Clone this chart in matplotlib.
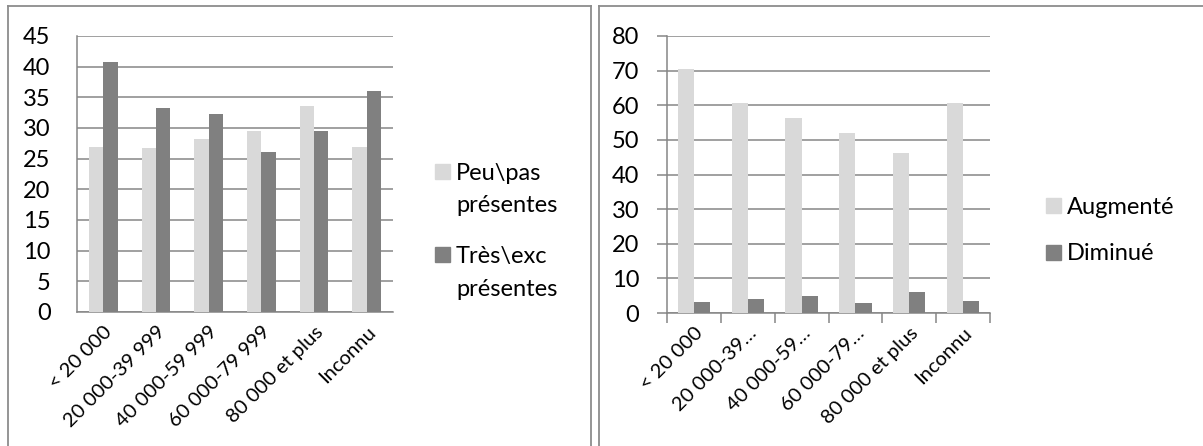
import matplotlib
matplotlib.use("Agg")
import matplotlib.pyplot as plt
from matplotlib.lines import Line2D
from matplotlib.patches import Rectangle
import numpy as np

# Income brackets
categories_left = ["< 20 000", "20 000-39 999", "40 000-59 999",
                   "60 000-79 999", "80 000 et plus", "Inconnu"]
categories_right = ["< 20 000", "20 000-39…", "40 000-59…",
                    "60 000-79…", "80 000 et plus", "Inconnu"]

# Left panel series
peu_pas = [26.9, 26.7, 28.2, 29.5, 33.6, 26.9]
tres_exc = [40.7, 33.3, 32.3, 26.1, 29.5, 36.0]
labels_left = ["Peu\\pas\nprésentes", "Très\\exc\nprésentes"]

# Right panel series
augmente = [70.6, 60.6, 56.3, 51.9, 46.2, 60.6]
diminue = [3.1, 4.0, 4.9, 2.8, 6.0, 3.4]
labels_right = ["Augmenté", "Diminué"]

LIGHT = "#d9d9d9"
DARK = "#808080"
GRID = "#868686"

plt.rcParams["font.family"] = ["Lato", "DejaVu Sans"]
plt.rcParams["font.size"] = 17

W, H = 1203, 446
fig = plt.figure(figsize=(W / 100, H / 100), dpi=100)


def px_rect(x0, y0, x1, y1):
    return [x0 / W, 1 - y1 / H, (x1 - x0) / W, (y1 - y0) / H]


def fx(v):
    return v / W


def fy(v):
    return 1 - v / H


def draw_panel(ax, cats, s1, s2, ymax, ystep, width, ticks_out):
    x = np.arange(len(cats))
    ax.bar(x - width / 2, s1, width, color=LIGHT, zorder=3)
    ax.bar(x + width / 2, s2, width, color=DARK, zorder=3)
    ax.set_xlim(-0.5, len(cats) - 0.5)
    ax.set_ylim(0, ymax)
    ax.set_yticks(np.arange(0, ymax + 1, ystep))
    ax.yaxis.grid(True, color=GRID, linewidth=1.1, zorder=0)
    ax.set_axisbelow(True)
    for side in ("top", "right"):
        ax.spines[side].set_visible(False)
    for side in ("left", "bottom"):
        ax.spines[side].set_color(GRID)
        ax.spines[side].set_linewidth(1.1)
    ax.set_xticks(x)
    ax.set_xticklabels(cats, rotation=45, ha="right", va="top",
                       rotation_mode="anchor", fontsize=14.5)
    ax.tick_params(axis="x", length=0, pad=8)
    if ticks_out:
        ax.tick_params(axis="y", length=7, width=1.1, color=GRID, pad=13)
        ax.set_xticks(np.arange(-0.5, len(cats)), minor=True)
        ax.tick_params(axis="x", which="minor", length=7, width=1.1,
                       color=GRID)
    else:
        ax.tick_params(axis="y", length=0, pad=19)


def draw_legend(x_box, entries, colors, first_line_y, line_px):
    # Square key aligned with the first line of each label
    size = 15
    for lab, col, yc in zip(entries, colors, first_line_y):
        fig.add_artist(Rectangle((fx(x_box), fy(yc + size / 2)),
                                 size / W, size / H, color=col,
                                 transform=fig.transFigure))
        for i, line in enumerate(lab.split("\n")):
            fig.text(fx(x_box + size + 6), fy(yc + i * line_px), line,
                     ha="left", va="center_baseline")


ax1 = fig.add_axes(px_rect(77, 36, 393, 312))
draw_panel(ax1, categories_left, peu_pas, tres_exc, 45, 5, 0.275, False)
draw_legend(435, labels_left, [LIGHT, DARK], [171, 254], 33)

ax2 = fig.add_axes(px_rect(667, 36, 990, 313))
draw_panel(ax2, categories_right, augmente, diminue, 80, 10, 0.3, True)
draw_legend(1046, labels_right, [LIGHT, DARK], [205, 252], 33)

# Panel frames
BORDER = "#8c8c8c"
for xs, ys in [((8, 8), (H + 5, 6)), ((8, 591), (6, 6)), ((591, 591), (6, H + 5)),
               ((599, 599), (H + 5, 6)), ((599, W + 5), (6, 6))]:
    fig.add_artist(Line2D([fx(v) for v in xs], [fy(v) for v in ys],
                          color=BORDER, linewidth=1.3,
                          transform=fig.transFigure))

fig.savefig("out.png", dpi=100, facecolor="white")
